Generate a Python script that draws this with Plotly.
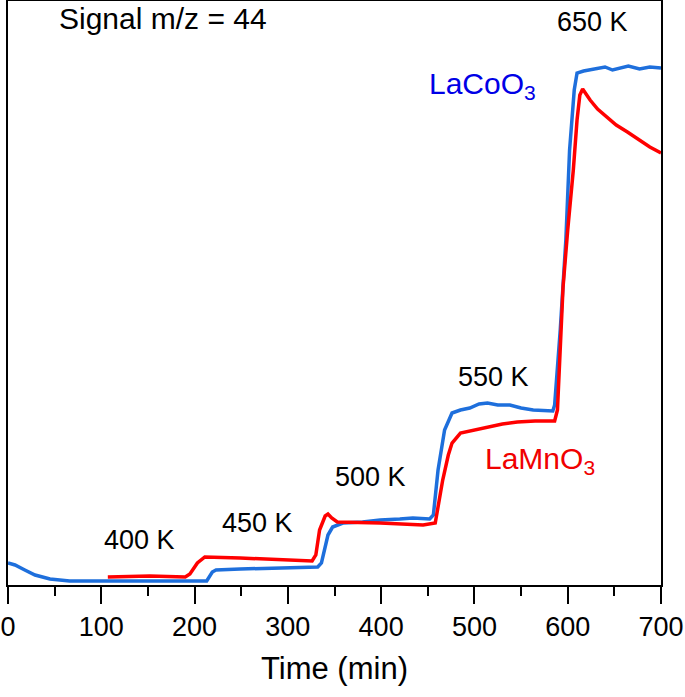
import plotly.graph_objects as go

# LaCoO3 (blue) - time in min, signal in arbitrary units
co_time = [0, 7.5, 18, 29, 45, 66, 99, 152, 206, 213, 219, 223, 249, 292, 332, 336, 343,
           348, 359, 380, 399, 420, 434, 452, 456, 461, 468, 476, 485, 495, 505, 514,
           525, 538, 550, 563, 575, 584, 586, 592, 598, 602, 607, 610, 617, 624, 632,
           640, 648, 656, 665, 677, 688, 700]
co_signal = [22, 20, 15, 10, 6, 4, 4, 4, 4, 4, 13, 15, 16, 17, 18, 22, 50,
             58, 62, 63, 65, 66, 67, 66, 70, 115, 155, 172, 175, 177, 181, 182,
             180, 180, 177, 175, 174, 174, 180, 255, 345, 435, 495, 512, 514, 515, 517,
             518, 515, 517, 519, 516, 518, 517]

# LaMnO3 (red)
mn_time = [107, 152, 190, 195, 203, 211, 249, 292, 326, 330, 334, 340, 343, 347, 353,
           399, 445, 458, 461, 466, 472, 476, 485, 500, 514, 530, 546, 565, 584, 586,
           589, 592, 595, 600, 606, 610, 613, 616, 624, 632, 642, 652, 664, 676, 688, 700]
mn_signal = [8, 9, 8, 11, 22, 28, 27, 25, 24, 30, 55, 69, 71, 67, 63,
             62, 60, 62, 80, 105, 130, 142, 152, 155, 158, 161, 163, 164, 164, 164,
             175, 235, 298, 355, 415, 465, 490, 496, 485, 476, 468, 460, 453, 445, 438, 432]

# text labels: (x, y, text)
temp_labels = [(141, 45, "400 K"), (267, 62, "450 K"), (389, 108, "500 K"),
               (520, 208, "550 K"), (627, 563, "650 K")]

font = "Arial, Liberation Sans, sans-serif"

fig = go.Figure()
fig.add_trace(go.Scatter(x=co_time, y=co_signal, mode="lines",
                         line=dict(color="#1e6fdc", width=3.5), name="LaCoO3"))
fig.add_trace(go.Scatter(x=mn_time, y=mn_signal, mode="lines",
                         line=dict(color="#ff0000", width=3.5), name="LaMnO3"))

for x, y, t in temp_labels:
    fig.add_annotation(x=x, y=y, text=t, showarrow=False,
                       font=dict(size=27, color="black", family=font))

fig.add_annotation(x=166, y=567, text="Signal m/z = 44", showarrow=False,
                   font=dict(size=30, color="black", family=font))
fig.add_annotation(x=509, y=500, text="LaCoO<sub>3</sub>", showarrow=False,
                   font=dict(size=30, color="#0000e6", family=font))
fig.add_annotation(x=570, y=125, text="LaMnO<sub>3</sub>", showarrow=False,
                   font=dict(size=30, color="#f00000", family=font))

fig.update_layout(
    width=685, height=697,
    margin=dict(l=8, r=24, t=1, b=112, autoexpand=False),
    plot_bgcolor="white", paper_bgcolor="white",
    showlegend=False,
    font=dict(family=font, color="black"),
    xaxis=dict(range=[0, 700], dtick=100, showgrid=False, zeroline=False,
               automargin=False,
               showline=True, linecolor="black", linewidth=1.5, mirror=True,
               ticks="outside", ticklen=17, tickwidth=1.5, tickcolor="black",
               tickfont=dict(size=27),
               minor=dict(dtick=50, ticks="outside", ticklen=9, tickwidth=1.5,
                          tickcolor="black"),
               title=dict(text="Time (min)", font=dict(size=31), standoff=16)),
    yaxis=dict(range=[0, 584], showgrid=False, zeroline=False, showticklabels=False,
               automargin=False,
               showline=True, linecolor="black", linewidth=1.5, mirror=True,
               ticks=""),
)

# page body has an 8px default margin; drop it so the figure sits at the corner
fig.write_html("out.html", config={"displayModeBar": False},
               post_script="document.body.style.margin='0';")
